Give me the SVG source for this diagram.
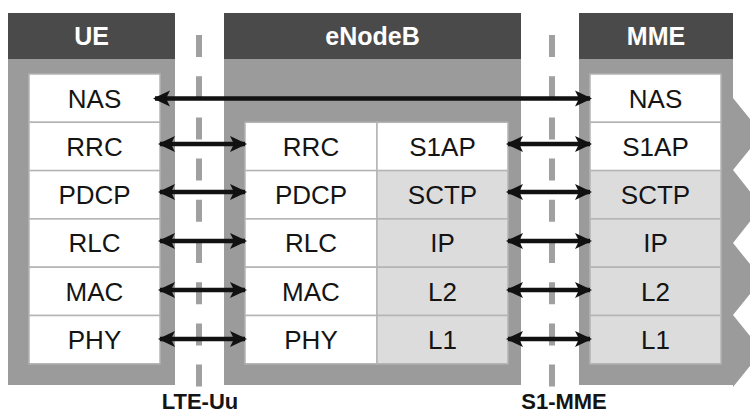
<svg xmlns="http://www.w3.org/2000/svg" width="750" height="414" viewBox="0 0 750 414">
  <defs>
    <style>
      .hdr { fill: #4a4a4a; }
      .body { fill: #9b9b9b; }
      .cw { fill: #ffffff; stroke: #b4b4b4; stroke-width: 1.5; }
      .cg { fill: #dcdcdc; stroke: #b4b4b4; stroke-width: 1.5; }
      .ht { font-family: "Liberation Sans", Arial, sans-serif; font-size: 25px; font-weight: bold; fill: #ffffff; text-anchor: middle; }
      .ct { font-family: "Liberation Sans", Arial, sans-serif; font-size: 26px; fill: #141414; text-anchor: middle; }
      .lt { font-family: "Liberation Sans", Arial, sans-serif; font-size: 22px; font-weight: bold; fill: #141414; text-anchor: middle; }
      .dash { stroke: #a0a0a0; stroke-width: 6; stroke-dasharray: 22 19.2; fill: none; }
      .arr { stroke: #111111; stroke-width: 4.5; fill: none; marker-start: url(#head); marker-end: url(#head); }
    </style>
    <marker id="head" viewBox="0 0 17 17" refX="15" refY="8.5" markerWidth="17" markerHeight="17" markerUnits="userSpaceOnUse" orient="auto-start-reverse">
      <path d="M0,0.5 L17,8.5 L0,16.5 L4,8.5 Z" fill="#111111"/>
    </marker>
  </defs>

  <!-- interface reference points -->
  <g id="interfaces">
    <line class="dash" x1="199" y1="35" x2="199" y2="389"/>
    <line class="dash" x1="552" y1="35" x2="552" y2="389"/>
    <text class="lt" x="200" y="409">LTE-Uu</text>
    <text class="lt" x="564" y="409">S1-MME</text>
  </g>

  <!-- UE protocol stack -->
  <g id="ue">
    <rect class="body" x="8" y="13" width="167" height="372"/>
    <rect class="hdr" x="8" y="13" width="167" height="46"/>
    <text class="ht" x="91.5" y="45">UE</text>
    <rect class="cw" x="29" y="74" width="131" height="48.3"/>
    <rect class="cw" x="29" y="122.3" width="131" height="48.3"/>
    <rect class="cw" x="29" y="170.6" width="131" height="48.3"/>
    <rect class="cw" x="29" y="218.9" width="131" height="48.3"/>
    <rect class="cw" x="29" y="267.2" width="131" height="48.3"/>
    <rect class="cw" x="29" y="315.5" width="131" height="48.3"/>
    <text class="ct" x="94.5" y="107.5">NAS</text>
    <text class="ct" x="94.5" y="155.8">RRC</text>
    <text class="ct" x="94.5" y="204.1">PDCP</text>
    <text class="ct" x="94.5" y="252.4">RLC</text>
    <text class="ct" x="94.5" y="300.7">MAC</text>
    <text class="ct" x="94.5" y="349">PHY</text>
  </g>

  <!-- eNodeB protocol stack -->
  <g id="enodeb">
    <rect class="body" x="224" y="13" width="297" height="372"/>
    <rect class="hdr" x="224" y="13" width="297" height="46"/>
    <text class="ht" x="372.5" y="45">eNodeB</text>
    <rect class="cw" x="245" y="122.3" width="132" height="48.3"/>
    <rect class="cw" x="245" y="170.6" width="132" height="48.3"/>
    <rect class="cw" x="245" y="218.9" width="132" height="48.3"/>
    <rect class="cw" x="245" y="267.2" width="132" height="48.3"/>
    <rect class="cw" x="245" y="315.5" width="132" height="48.3"/>
    <rect class="cw" x="377" y="122.3" width="131" height="48.3"/>
    <rect class="cg" x="377" y="170.6" width="131" height="48.3"/>
    <rect class="cg" x="377" y="218.9" width="131" height="48.3"/>
    <rect class="cg" x="377" y="267.2" width="131" height="48.3"/>
    <rect class="cg" x="377" y="315.5" width="131" height="48.3"/>
    <text class="ct" x="311" y="155.8">RRC</text>
    <text class="ct" x="311" y="204.1">PDCP</text>
    <text class="ct" x="311" y="252.4">RLC</text>
    <text class="ct" x="311" y="300.7">MAC</text>
    <text class="ct" x="311" y="349">PHY</text>
    <text class="ct" x="442.5" y="155.8">S1AP</text>
    <text class="ct" x="442.5" y="204.1">SCTP</text>
    <text class="ct" x="442.5" y="252.4">IP</text>
    <text class="ct" x="442.5" y="300.7">L2</text>
    <text class="ct" x="442.5" y="349">L1</text>
  </g>

  <!-- MME protocol stack (serrated right edge) -->
  <g id="mme">
    <path class="body" d="M579,13 H733 V98 L762,134 L733,170 L762,206.5 L733,243 L762,279 L733,315 L762,351 L733,387 V385 H579 Z"/>
    <rect class="hdr" x="579" y="13" width="154" height="46"/>
    <text class="ht" x="656" y="45">MME</text>
    <rect class="cw" x="590" y="74" width="131" height="48.3"/>
    <rect class="cw" x="590" y="122.3" width="131" height="48.3"/>
    <rect class="cg" x="590" y="170.6" width="131" height="48.3"/>
    <rect class="cg" x="590" y="218.9" width="131" height="48.3"/>
    <rect class="cg" x="590" y="267.2" width="131" height="48.3"/>
    <rect class="cg" x="590" y="315.5" width="131" height="48.3"/>
    <text class="ct" x="655.5" y="107.5">NAS</text>
    <text class="ct" x="655.5" y="155.8">S1AP</text>
    <text class="ct" x="655.5" y="204.1">SCTP</text>
    <text class="ct" x="655.5" y="252.4">IP</text>
    <text class="ct" x="655.5" y="300.7">L2</text>
    <text class="ct" x="655.5" y="349">L1</text>
  </g>

  <!-- peer-to-peer protocol links -->
  <g id="connectors">
    <line class="arr" x1="155" y1="98.5" x2="590" y2="98.5"/>
    <line class="arr" x1="160" y1="144" x2="245" y2="144"/>
    <line class="arr" x1="160" y1="192" x2="245" y2="192"/>
    <line class="arr" x1="160" y1="241" x2="245" y2="241"/>
    <line class="arr" x1="160" y1="290" x2="245" y2="290"/>
    <line class="arr" x1="160" y1="339" x2="245" y2="339"/>
    <line class="arr" x1="508" y1="144" x2="590" y2="144"/>
    <line class="arr" x1="508" y1="192" x2="590" y2="192"/>
    <line class="arr" x1="508" y1="241" x2="590" y2="241"/>
    <line class="arr" x1="508" y1="290" x2="590" y2="290"/>
    <line class="arr" x1="508" y1="339" x2="590" y2="339"/>
  </g>
</svg>
